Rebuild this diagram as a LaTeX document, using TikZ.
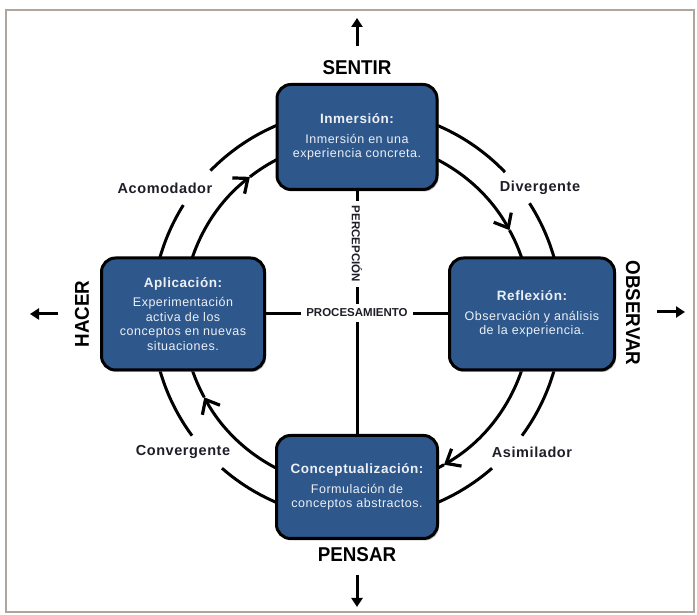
\documentclass[tikz,border=0pt]{standalone}
\usepackage{fontspec}
\setmainfont{Liberation Sans}
\newfontfamily\boxfont[LetterSpace=4]{Liberation Sans}
\usetikzlibrary{arrows.meta,shadows}
\definecolor{boxblue}{RGB}{46,88,140}
\definecolor{boxtext}{RGB}{236,240,246}
\definecolor{framecol}{RGB}{175,165,155}
\definecolor{labcol}{RGB}{30,30,40}
\begin{document}
\begin{tikzpicture}[x=1pt,y=1pt,
  stage/.style={draw=black, line width=3pt, rounded corners=14pt, fill=boxblue, text=boxtext,
    align=center, inner sep=0pt,
    drop shadow={shadow xshift=1.5pt, shadow yshift=-2pt, opacity=0.6},
    font=\boxfont\fontsize{12.5}{14.5}\selectfont},
  pole/.style={font=\bfseries\fontsize{20}{22}\selectfont, text=black, inner sep=0pt},
  phase/.style={font=\boxfont\bfseries\fontsize{14.5}{16}\selectfont, text=labcol, inner sep=0pt},
  axis/.style={line width=3pt},
  axlabel/.style={fill=white, font=\bfseries\fontsize{11.5}{13}\selectfont, text=labcol, inner sep=5pt},
  ring/.style={line width=3pt},
  cyc/.style={line width=3pt, -{Straight Barb[length=12pt,width=20pt,line width=3.2pt]}},
  outarrow/.style={line width=3pt, -{Triangle[length=9pt,width=11pt]}}
]
\useasboundingbox (0,0) rectangle (697,615);
\draw[framecol, line width=2pt] (6,3) rectangle (694,605);

\coordinate (c) at (357,301);

% outer ring
\draw[ring] (c) ++(75:205) arc[start angle=75,end angle=43.8,radius=205];
\draw[ring] (c) ++(32.7:205) arc[start angle=32.7,end angle=5,radius=205];
\draw[ring] (c) ++(105:205) arc[start angle=105,end angle=135.6,radius=205];
\draw[ring] (c) ++(147.9:205) arc[start angle=147.9,end angle=175,radius=205];
\draw[ring] (c) ++(185:205) arc[start angle=185,end angle=216.4,radius=205];
\draw[ring] (c) ++(228.8:205) arc[start angle=228.8,end angle=255,radius=205];
\draw[ring] (c) ++(285:205) arc[start angle=285,end angle=311.2,radius=205];
\draw[ring] (c) ++(323.6:205) arc[start angle=323.6,end angle=355,radius=205];

% inner ring with arrows (clockwise cycle)
\draw[cyc] (c) ++(75:174) arc[start angle=75,end angle=28.8,radius=174];
\draw[ring] (c) ++(28.8:174) arc[start angle=28.8,end angle=5,radius=174];
\draw[cyc] (c) ++(355:174) arc[start angle=355,end angle=300,radius=174];
\draw[ring] (c) ++(300:174) arc[start angle=300,end angle=285,radius=174];
\draw[cyc] (c) ++(255:174) arc[start angle=255,end angle=208.6,radius=174];
\draw[ring] (c) ++(208.6:174) arc[start angle=208.6,end angle=185,radius=174];
\draw[cyc] (c) ++(175:174) arc[start angle=175,end angle=128,radius=174];
\draw[ring] (c) ++(128:174) arc[start angle=128,end angle=105,radius=174];

% boxes
\node[stage, minimum width=160, minimum height=105] (t) at (357,478)
  {{\fontsize{13.5}{15}\selectfont\bfseries Inmersión:}\\[5pt]Inmersión en una\\experiencia concreta.};
\node[stage, minimum width=163, minimum height=112] (l) at (183,301)
  {{\fontsize{13.5}{15}\selectfont\bfseries Aplicación:}\\[5pt]Experimentación\\activa de los\\conceptos en nuevas\\situaciones.};
\node[stage, minimum width=165, minimum height=112] (r) at (532,301)
  {{\fontsize{13.5}{15}\selectfont\bfseries Reflexión:}\\[5pt]Observación y análisis\\de la experiencia.};
\node[stage, minimum width=161, minimum height=103] (b) at (357,128)
  {{\fontsize{13.5}{15}\selectfont\bfseries Conceptualización:}\\[5pt]Formulación de\\conceptos abstractos.};

% axes
\draw[axis] (t) -- (b);
\draw[axis] (l) -- (r);
\node[axlabel, rotate=-90] (perc) at (357,371) {PERCEPCIÓN};
\node[axlabel] (proc) at (357,302) {PROCESAMIENTO};

% style labels
\node[phase] (acom) at (165,427) {Acomodador};
\node[phase] (div) at (540,427) {Divergente};
\node[phase] (conv) at (183,163) {Convergente};
\node[phase] (asim) at (532,163) {Asimilador};

% poles
\node[pole] (sentir) at (357,547) {\scalebox{0.94}[1]{SENTIR}};
\node[pole] (pensar) at (357,60) {\scalebox{0.94}[1]{PENSAR}};
\node[pole, rotate=90] (hacer) at (82,301) {\scalebox{0.94}[1]{HACER}};
\node[pole, rotate=-90] (observar) at (633,302) {\scalebox{0.94}[1]{OBSERVAR}};

\coordinate (s0) at (357,569); \coordinate (s1) at (357,597);
\coordinate (p0) at (357,40);  \coordinate (p1) at (357,8);
\coordinate (h0) at (58,301);  \coordinate (h1) at (30,301);
\coordinate (o0) at (657,303); \coordinate (o1) at (685,303);
\draw[outarrow] (s0) -- (s1);
\draw[outarrow] (p0) -- (p1);
\draw[outarrow] (h0) -- (h1);
\draw[outarrow] (o0) -- (o1);
\end{tikzpicture}
\end{document}
